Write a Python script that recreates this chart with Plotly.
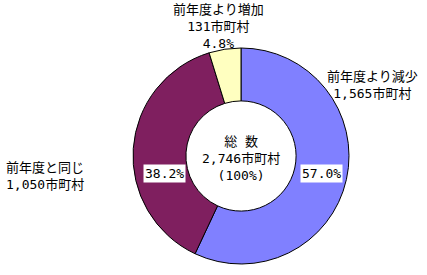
import plotly.graph_objects as go

# data
categories = ["前年度より減少", "前年度と同じ", "前年度より増加"]
counts = [1565, 1050, 131]
colors = ["#8080FF", "#7F1F5F", "#FFFFC0"]
total_label = "総\u2002数"

W, H = 427, 275
total = sum(counts)
pcts = [c / total * 100 for c in counts]

FONT = "DejaVu Sans Mono, Noto Sans CJK JP, sans-serif"
FS = 13

cx, cy, R = 241, 156, 108


def px(x):
    return x / W


def py(y):
    return 1 - y / H


fig = go.Figure(
    go.Pie(
        labels=categories,
        values=counts,
        marker=dict(colors=colors, line=dict(color="black", width=1)),
        sort=False,
        direction="clockwise",
        rotation=0,
        hole=0.51,
        textinfo="none",
        hoverinfo="skip",
        showlegend=False,
        domain=dict(x=[px(cx - R), px(cx + R)], y=[py(cy + R), py(cy - R)]),
    )
)

ann = []
font = dict(family=FONT, size=FS, color="black")

def fmt_count(c):
    return f"{c:,}市町村"

# outside labels
ann.append(dict(x=px(372), y=py(85), text=f"{categories[0]}<br>{fmt_count(counts[0])}"))
ann.append(dict(x=px(45), y=py(176), text=f"{categories[1]}<br>{fmt_count(counts[1])}"))
ann.append(dict(x=px(218), y=py(27), text=f"{categories[2]}<br>{fmt_count(counts[2])}<br>{pcts[2]:.1f}%"))
# center
ann.append(dict(x=px(cx), y=py(158), text=f"{total_label}<br>{fmt_count(total)}<br>(100%)"))

annotations = []
for a in ann:
    a.update(xref="paper", yref="paper", showarrow=False, font=font,
             xanchor="center", yanchor="middle", align="center")
    annotations.append(a)

# percent boxes
for (x, y), p in zip([(321, 173), (164, 173)], pcts[:2]):
    annotations.append(dict(x=px(x), y=py(y), xref="paper", yref="paper",
                            text=f"{p:.1f}%", showarrow=False, font=font,
                            bgcolor="white", borderpad=1,
                            xanchor="center", yanchor="middle"))

fig.update_layout(
    width=W, height=H,
    margin=dict(l=0, r=0, t=0, b=0),
    paper_bgcolor="white", plot_bgcolor="white",
    annotations=annotations,
)

fig.write_html("out.html")
